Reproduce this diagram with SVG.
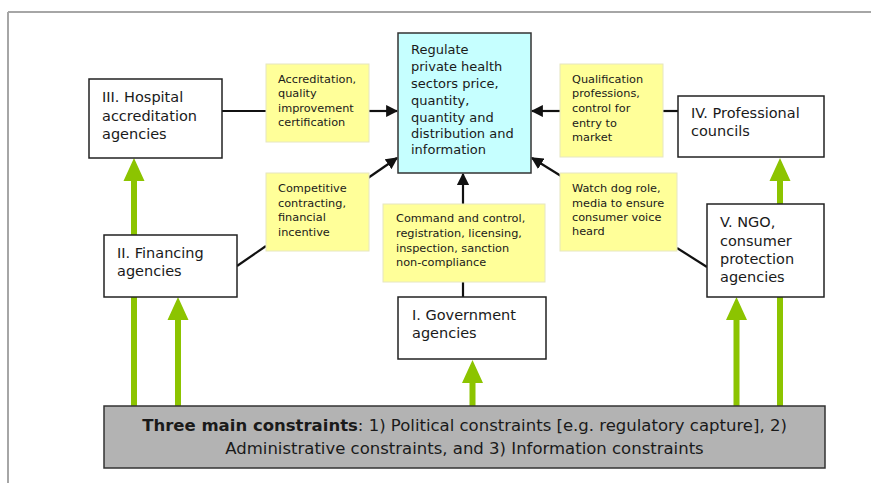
<svg xmlns="http://www.w3.org/2000/svg" width="871" height="483" viewBox="0 0 871 483">
<style>
text{font-family:"DejaVu Sans",Verdana,sans-serif;fill:#1a1a1a}
.node{fill:#fff;stroke:#222;stroke-width:1.5}
.lab{fill:#ffff99;stroke:#e6e6c0;stroke-width:1}
.t14{font-size:14.5px}
.t11{font-size:11.3px}
.t13{font-size:13px}
.con{stroke:#111;stroke-width:2.2;fill:none}
.g{fill:#8cc400}
.big{font-size:16.5px}
</style>
<defs>
<marker id="ah" viewBox="0 0 10 10" refX="9" refY="5" markerWidth="5.5" markerHeight="5.5" orient="auto" markerUnits="strokeWidth">
<path d="M0,0 L10,5 L0,10 z" fill="#111"/>
</marker>
</defs>
<g id="frame">
<line x1="8" y1="12" x2="871" y2="12" stroke="#a6a6a6" stroke-width="2"/>
<line x1="8" y1="12" x2="8" y2="483" stroke="#a6a6a6" stroke-width="2"/>
</g>
<g id="green-arrows">
<path class="g" d="M131,406 V181 H123.5 L134,158 L144.5,181 H137 V406 z"/>
<path class="g" d="M175,406 V320 H167.5 L178,297 L188.5,320 H181 V406 z"/>
<path class="g" d="M469.5,406 V383 H462 L472.5,360 L483,383 H475.5 V406 z"/>
<path class="g" d="M733.5,406 V320 H726 L736.5,297 L747,320 H739.5 V406 z"/>
<path class="g" d="M777,406 V181 H769.5 L780,158 L790.5,181 H783 V406 z"/>
</g>
<g id="connectors">
<line class="con" x1="222" y1="111" x2="266" y2="111"/>
<line class="con" x1="369" y1="111" x2="397" y2="111" marker-end="url(#ah)"/>
<line class="con" x1="368" y1="178" x2="397" y2="158" marker-end="url(#ah)"/>
<line class="con" x1="237" y1="266" x2="266" y2="246"/>
<line class="con" x1="463" y1="297" x2="463" y2="282"/>
<line class="con" x1="463" y1="204" x2="463" y2="174" marker-end="url(#ah)"/>
<line class="con" x1="678" y1="111" x2="663" y2="111"/>
<line class="con" x1="560" y1="111" x2="532" y2="111" marker-end="url(#ah)"/>
<line class="con" x1="561" y1="176" x2="532" y2="158" marker-end="url(#ah)"/>
<line class="con" x1="677" y1="248" x2="707" y2="267"/>
</g>
<g id="regulate">
<rect x="398" y="33" width="133" height="140" fill="#c6ffff" stroke="#333" stroke-width="1.5"/>
<text class="t13" x="411"><tspan x="411" y="54">Regulate</tspan><tspan x="411" y="71">private health</tspan><tspan x="411" y="88">sectors price,</tspan><tspan x="411" y="105">quantity,</tspan><tspan x="411" y="122">quantity and</tspan><tspan x="411" y="138">distribution and</tspan><tspan x="411" y="154">information</tspan></text>
</g>
<g id="hospital">
<rect class="node" x="89" y="79" width="133" height="79"/>
<text class="t14"><tspan x="102" y="102">III. Hospital</tspan><tspan x="102" y="121">accreditation</tspan><tspan x="102" y="139">agencies</tspan></text>
</g>
<g id="label-accreditation">
<rect class="lab" x="266" y="64" width="103" height="78"/>
<text class="t11"><tspan x="278" y="83">Accreditation,</tspan><tspan x="278" y="97">quality</tspan><tspan x="278" y="112">improvement</tspan><tspan x="278" y="126">certification</tspan></text>
</g>
<g id="financing">
<rect class="node" x="104" y="235" width="133" height="62"/>
<text class="t14"><tspan x="117" y="258">II. Financing</tspan><tspan x="117" y="276">agencies</tspan></text>
</g>
<g id="label-competitive">
<rect class="lab" x="266" y="173" width="103" height="78"/>
<text class="t11"><tspan x="278" y="192">Competitive</tspan><tspan x="278" y="207">contracting,</tspan><tspan x="278" y="221">financial</tspan><tspan x="278" y="236">incentive</tspan></text>
</g>
<g id="label-command">
<rect class="lab" x="383" y="204" width="162" height="78"/>
<text class="t11"><tspan x="396" y="222">Command and control,</tspan><tspan x="396" y="237">registration, licensing,</tspan><tspan x="396" y="252">inspection, sanction</tspan><tspan x="396" y="266">non-compliance</tspan></text>
</g>
<g id="government">
<rect class="node" x="398" y="297" width="148" height="62"/>
<text class="t14"><tspan x="412" y="320">I. Government</tspan><tspan x="412" y="338">agencies</tspan></text>
</g>
<g id="label-qualification">
<rect class="lab" x="560" y="64" width="103" height="93"/>
<text class="t11"><tspan x="572" y="83">Qualification</tspan><tspan x="572" y="97">professions,</tspan><tspan x="572" y="112">control for</tspan><tspan x="572" y="127">entry to</tspan><tspan x="572" y="141">market</tspan></text>
</g>
<g id="professional">
<rect class="node" x="678" y="96" width="146" height="61"/>
<text class="t14"><tspan x="691" y="118">IV. Professional</tspan><tspan x="691" y="136">councils</tspan></text>
</g>
<g id="label-watchdog">
<rect class="lab" x="560" y="173" width="117" height="78"/>
<text class="t11"><tspan x="572" y="192">Watch dog role,</tspan><tspan x="572" y="207">media to ensure</tspan><tspan x="572" y="221">consumer voice</tspan><tspan x="572" y="235">heard</tspan></text>
</g>
<g id="ngo">
<rect class="node" x="707" y="204" width="117" height="93"/>
<text class="t14"><tspan x="720" y="227">V. NGO,</tspan><tspan x="720" y="246">consumer</tspan><tspan x="720" y="264">protection</tspan><tspan x="720" y="282">agencies</tspan></text>
</g>
<g id="constraints">
<rect x="104" y="406" width="721" height="62" fill="#b3b3b3" stroke="#333" stroke-width="1.5"/>
<text class="big" x="464.5" y="431" text-anchor="middle"><tspan font-weight="bold">Three main constraints</tspan>: 1) Political constraints [e.g. regulatory capture], 2)</text>
<text class="big" x="464.5" y="454" text-anchor="middle">Administrative constraints, and 3) Information constraints</text>
</g>
</svg>
